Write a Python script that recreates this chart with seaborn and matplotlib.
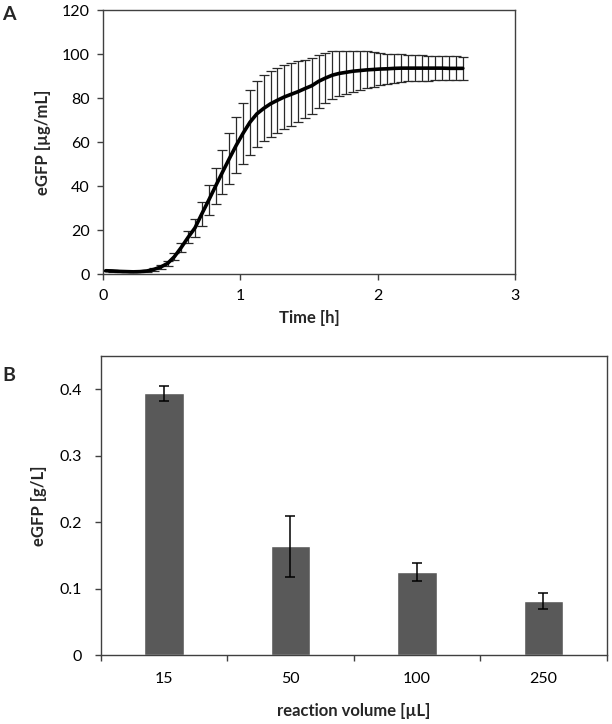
import matplotlib
matplotlib.use("Agg")
import matplotlib.pyplot as plt
import pandas as pd
import seaborn as sns

# panel A: eGFP time course (mean and standard deviation)
time_h = [0.02, 0.07, 0.12, 0.17, 0.22, 0.27, 0.32, 0.37, 0.42, 0.47,
          0.52, 0.57, 0.62, 0.67, 0.72, 0.77, 0.82, 0.87, 0.92, 0.97,
          1.02, 1.07, 1.12, 1.17, 1.22, 1.27, 1.32, 1.37, 1.42, 1.47,
          1.52, 1.57, 1.62, 1.67, 1.72, 1.77, 1.82, 1.87, 1.92, 1.97,
          2.02, 2.07, 2.12, 2.17, 2.22, 2.27, 2.32, 2.37, 2.42, 2.47,
          2.52, 2.57, 2.62]
egfp_mean = [1.5, 1.4, 1.2, 1.1, 1.0, 1.1, 1.4, 2.1, 3.2, 4.8,
             7.9, 12.1, 16.7, 21.0, 27.4, 33.6, 40.0, 46.3, 52.5, 58.5,
             64.0, 69.0, 72.8, 75.3, 77.4, 79.0, 80.5, 81.7, 82.9, 84.3,
             85.6, 87.6, 89.1, 90.4, 91.2, 91.7, 92.2, 92.5, 92.8, 93.0,
             93.2, 93.3, 93.5, 93.6, 93.6, 93.6, 93.6, 93.6, 93.6, 93.6,
             93.5, 93.5, 93.5]
egfp_sd = [0.3, 0.3, 0.3, 0.3, 0.3, 0.4, 0.5, 0.7, 0.9, 1.2,
           1.5, 1.9, 2.7, 4.2, 5.4, 6.9, 8.3, 10.1, 11.4, 12.7,
           13.8, 14.7, 15.1, 15.0, 15.0, 14.8, 14.5, 14.2, 14.0, 13.2,
           12.7, 11.9, 11.5, 10.9, 10.3, 9.8, 9.3, 8.9, 8.4, 7.8,
           7.3, 6.9, 6.5, 6.2, 6.0, 5.9, 5.8, 5.7, 5.6, 5.5,
           5.4, 5.4, 5.3]

# panel B: yield per reaction volume
volumes = ["15", "50", "100", "250"]
yield_gl = [0.394, 0.164, 0.125, 0.081]
yield_err = [0.011, 0.046, 0.014, 0.012]

AXIS_COLOR = "#404040"
BAR_COLOR = "#595959"
TICK_SIZE = 11.5
LABEL_SIZE = 12

sns.set_theme(style="ticks")
plt.rcParams["font.family"] = ["Lato", "DejaVu Sans"]


def style_axes(ax, ypad):
    for side in ["left", "right", "top", "bottom"]:
        ax.spines[side].set_visible(True)
        ax.spines[side].set_color(AXIS_COLOR)
        ax.spines[side].set_linewidth(1.0)
    ax.tick_params(axis="both", direction="out", length=4.5, width=1,
                   color=AXIS_COLOR, labelsize=TICK_SIZE, labelcolor="black")
    ax.tick_params(axis="y", pad=ypad)


fig = plt.figure(figsize=(6.12, 7.24), dpi=100)

# ---- A ----
ax_a = fig.add_axes([0.1683, 0.6215, 0.6732, 0.3646])
df_a = pd.DataFrame({"time": time_h, "egfp": egfp_mean, "sd": egfp_sd})
ax_a.errorbar(df_a["time"], df_a["egfp"], yerr=df_a["sd"], fmt="none",
              ecolor="#2a2a2a", elinewidth=0.9, capsize=3.5, capthick=0.9)
sns.lineplot(data=df_a, x="time", y="egfp", ax=ax_a, color="black",
             linewidth=2.6, zorder=3)
ax_a.set_xlim(0, 3)
ax_a.set_ylim(0, 120)
ax_a.set_xticks([0, 1, 2, 3])
ax_a.set_yticks(range(0, 121, 20))
style_axes(ax_a, ypad=5)
ax_a.tick_params(axis="x", pad=6)
ax_a.set_xlabel("Time [h]", fontweight="bold", fontsize=LABEL_SIZE, labelpad=5)
ax_a.set_ylabel("eGFP [µg/mL]", fontweight="bold", fontsize=LABEL_SIZE,
                labelpad=8)
fig.text(0.004, 0.980, "A", fontsize=14, fontweight="bold", va="center")

# ---- B ----
ax_b = fig.add_axes([0.1645, 0.0949, 0.8268, 0.4134])
df_b = pd.DataFrame({"volume": volumes, "egfp": yield_gl, "err": yield_err})
sns.barplot(data=df_b, x="volume", y="egfp", ax=ax_b, color=BAR_COLOR,
            saturation=1, width=0.31, errorbar=None)
ax_b.errorbar(range(len(volumes)), df_b["egfp"], yerr=df_b["err"], fmt="none",
              ecolor="black", elinewidth=1.1, capsize=3.5, capthick=1.1)
ax_b.set_xlim(-0.5, 3.5)
ax_b.set_ylim(0, 0.45)
ax_b.set_yticks([0, 0.1, 0.2, 0.3, 0.4])
ax_b.set_yticklabels(["0", "0.1", "0.2", "0.3", "0.4"])
style_axes(ax_b, ypad=9)
ax_b.set_xticks([-0.5, 0.5, 1.5, 2.5, 3.5], minor=True)
ax_b.tick_params(axis="x", which="major", length=0, pad=12)
ax_b.tick_params(axis="x", which="minor", direction="out", length=4.5,
                 width=1, color=AXIS_COLOR)
ax_b.set_xlabel("reaction volume [µL]", fontweight="bold",
                fontsize=LABEL_SIZE, labelpad=12)
ax_b.set_ylabel("eGFP [g/L]", fontweight="bold", fontsize=LABEL_SIZE,
                labelpad=9)
fig.text(0.004, 0.481, "B", fontsize=14, fontweight="bold", va="center")

fig.savefig("out.png", dpi=100)
